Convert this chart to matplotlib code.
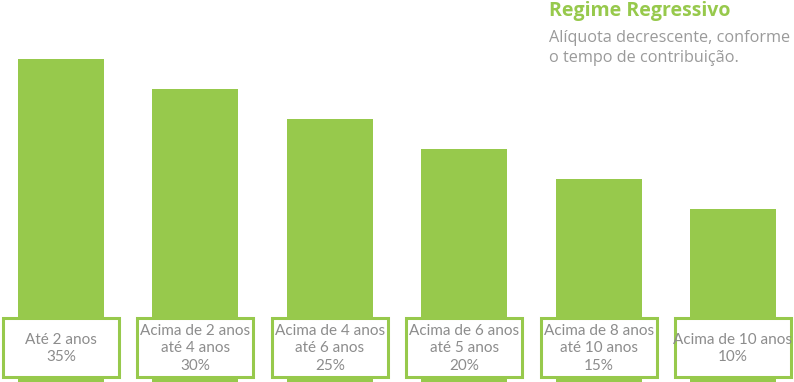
import matplotlib.pyplot as plt
from matplotlib.patches import Rectangle
from matplotlib.transforms import blended_transform_factory

faixas = ["Até 2 anos", "Acima de 2 anos\naté 4 anos", "Acima de 4 anos\naté 6 anos",
          "Acima de 6 anos\naté 5 anos", "Acima de 8 anos\naté 10 anos", "Acima de 10 anos"]
aliquotas = [35, 30, 25, 20, 15, 10]

verde = "#97c94c"
cinza = "#8c8c8c"

fig = plt.figure(figsize=(7.94, 3.82), dpi=100)
ax = fig.add_axes([0, 0, 1, 1])
ax.set_xlim(-0.454, 5.454)
ax.set_ylim(-18.83, 44.83)
ax.axis("off")

x = list(range(len(aliquotas)))
ax.bar(x, [a + 18.83 for a in aliquotas], bottom=-18.83, width=0.64, color=verde)

# caixas com os rotulos
tr = blended_transform_factory(ax.transData, ax.transAxes)
for i, (f, a) in enumerate(zip(faixas, aliquotas)):
    ax.add_patch(Rectangle((i - 0.432, 0.013), 0.864, 0.155, transform=tr,
                           facecolor="white", edgecolor=verde, linewidth=2.2, zorder=3))
    ax.text(i, 0.088, f + "\n" + str(a) + "%", transform=tr, ha="center", va="center",
            fontsize=11, color=cinza, linespacing=1.3, zorder=4, family="Lato")

fig.text(549 / 794, 1 - 1 / 382, "Regime Regressivo", ha="left", va="top",
         fontsize=14, fontweight="bold", color=verde, family="Open Sans")
fig.text(549 / 794, 1 - 30 / 382, "Alíquota decrescente, conforme\no tempo de contribuição.",
         ha="left", va="top", fontsize=11.7, color="#9a9a9a", linespacing=1.35, family="Open Sans")

fig.savefig("out.png", dpi=100)
